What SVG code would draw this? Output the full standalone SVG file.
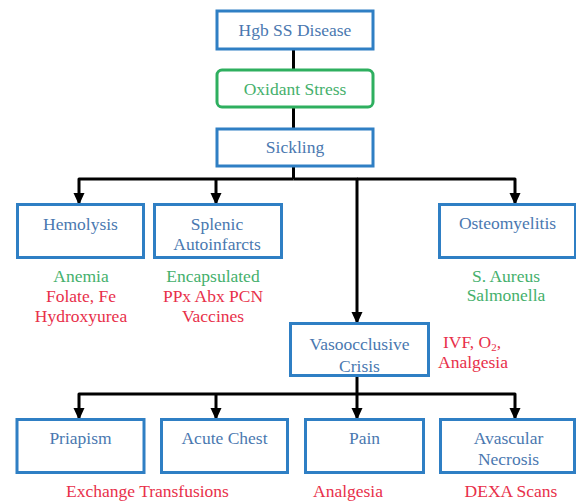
<svg xmlns="http://www.w3.org/2000/svg" width="576" height="502" viewBox="0 0 576 502" font-family="'Liberation Serif', 'DejaVu Serif', serif">
<style>
text{font-family:'Liberation Serif','DejaVu Serif',serif;font-size:17.5px}
.box{fill:#fff;stroke:#2f7fc4;stroke-width:3}
.gbox{fill:#fff;stroke:#2eaf5f;stroke-width:3}
.bt{fill:#4a78b0;text-anchor:middle}
.gt{fill:#45b06c;text-anchor:middle}
.rt{fill:#e8304a;text-anchor:middle}
.st{text-anchor:start}
.ln{fill:none;stroke:#000;stroke-width:3;stroke-linejoin:round}
.arr{marker-end:url(#ah)}
</style>
<defs>
<marker id="ah" markerUnits="userSpaceOnUse" markerWidth="12" markerHeight="12" viewBox="0 0 12 12" refX="11" refY="6" orient="auto">
<path d="M0,0.5 L12,6 L0,11.5 z" fill="#000"/>
</marker>
<clipPath id="vclip"><rect x="291" y="324" width="137" height="51"/></clipPath>
<clipPath id="nclip"><rect x="441" y="420" width="134" height="52"/></clipPath>
</defs>
<rect width="576" height="502" fill="#fff"/>
<g id="connectors">
<path class="ln" d="M293.5,50 V69"/>
<path class="ln" d="M293.5,108 V128"/>
<path class="ln" d="M293.5,167 V179"/>
<path class="ln arr" d="M293.5,179 H79 V204"/>
<path class="ln arr" d="M216,179 V204"/>
<path class="ln arr" d="M293.5,179 H357 V323"/>
<path class="ln arr" d="M357,179 H515 V204"/>
<path class="ln" d="M357,377 V394"/>
<path class="ln arr" d="M357,394 H79 V419"/>
<path class="ln arr" d="M216,394 V419"/>
<path class="ln arr" d="M357,394 V419"/>
<path class="ln arr" d="M357,394 H515 V419"/>
</g>
<g id="hgb">
<rect class="box" x="217" y="11" width="156" height="38"/>
<text class="bt" x="295" y="36">Hgb SS Disease</text>
</g>
<g id="oxidant">
<rect class="gbox" x="217" y="70" width="156" height="37" rx="5"/>
<text class="gt" x="295" y="95">Oxidant Stress</text>
</g>
<g id="sickling">
<rect class="box" x="217" y="129" width="156" height="37"/>
<text class="bt" x="295" y="153">Sickling</text>
</g>
<g id="hemolysis">
<rect class="box" x="17.5" y="204.5" width="126" height="53"/>
<text class="bt" x="80.5" y="230">Hemolysis</text>
<text class="gt" x="81" y="282">Anemia</text>
<text class="rt" x="81" y="302">Folate, Fe</text>
<text class="rt" x="81" y="322">Hydroxyurea</text>
</g>
<g id="splenic">
<rect class="box" x="154.5" y="204.5" width="127" height="53"/>
<text class="bt" x="217" y="230">Splenic</text>
<text class="bt" x="217" y="250">Autoinfarcts</text>
<text class="gt" x="213" y="282">Encapsulated</text>
<text class="rt" x="213" y="302">PPx Abx PCN</text>
<text class="rt" x="213" y="322">Vaccines</text>
</g>
<g id="osteomyelitis">
<rect class="box" x="439.5" y="204.5" width="136" height="53"/>
<text class="bt" x="507.5" y="229">Osteomyelitis</text>
<text class="gt" x="506" y="282">S. Aureus</text>
<text class="gt" x="506" y="301">Salmonella</text>
</g>
<g id="vasoocclusive">
<rect class="box" x="290.5" y="323.5" width="138" height="52"/>
<text class="bt" x="359.5" y="350">Vasoocclusive</text>
<text class="bt" x="359.5" y="372" clip-path="url(#vclip)">Crisis</text>
<text class="rt st" x="443" y="348">IVF, O<tspan font-size="11" dy="3">2</tspan><tspan dy="-3">,</tspan></text>
<text class="rt st" x="438" y="368">Analgesia</text>
</g>
<g id="priapism">
<rect class="box" x="17" y="419.5" width="127" height="53"/>
<text class="bt" x="80.5" y="444">Priapism</text>
</g>
<g id="acutechest">
<rect class="box" x="161.5" y="419.5" width="126" height="53"/>
<text class="bt" x="224.5" y="444">Acute Chest</text>
</g>
<g id="pain">
<rect class="box" x="305.5" y="419.5" width="118" height="53"/>
<text class="bt" x="364.5" y="444">Pain</text>
</g>
<g id="avascular">
<rect class="box" x="440.5" y="419.5" width="134" height="53"/>
<text class="bt" x="508.5" y="444">Avascular</text>
<text class="bt" x="508.5" y="465" clip-path="url(#nclip)">Necrosis</text>
</g>
<g id="treatments">
<text class="rt" x="147.5" y="497">Exchange Transfusions</text>
<text class="rt" x="348" y="497">Analgesia</text>
<text class="rt" x="511" y="497">DEXA Scans</text>
</g>
</svg>
